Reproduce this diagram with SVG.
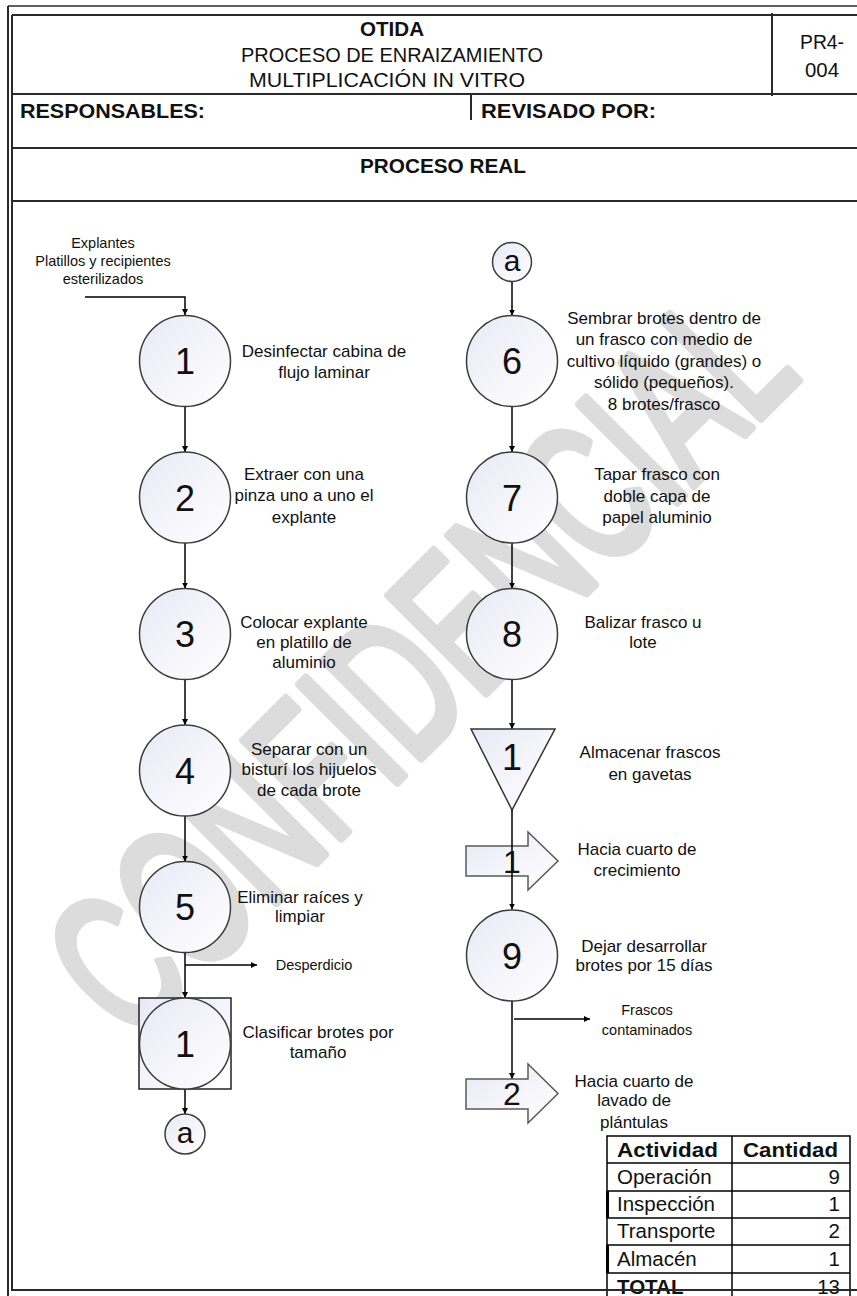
<svg xmlns="http://www.w3.org/2000/svg" width="857" height="1296" viewBox="0 0 857 1296">
<style>
.t{font-family:"Liberation Sans",Arial,sans-serif;fill:#111;}
.lbl{font-size:17px;text-anchor:middle;}
.sm{font-size:14.5px;text-anchor:middle;}
.num{font-size:36px;text-anchor:middle;}
.hd{font-size:20px;}
.b{font-weight:bold;}
.tb{font-size:20.5px;}
.frame{stroke:#2a2a2a;stroke-width:2;fill:none;}
.op{fill:url(#g);stroke:#3c3c3c;stroke-width:1.5;}
.con{stroke:#000;stroke-width:1.5;fill:none;}
.tr{fill:url(#g);stroke:#5a5a5a;stroke-width:1.5;}
.wm{font-family:"Liberation Sans",Arial,sans-serif;font-size:200px;fill:#dcdcdc;stroke:#dcdcdc;stroke-width:9;stroke-linejoin:round;}
</style>
<defs>
<linearGradient id="g" x1="0" y1="0" x2="1" y2="1">
<stop offset="0" stop-color="#e9e9f6"/>
<stop offset="1" stop-color="#ffffff"/>
</linearGradient>
<marker id="ah" viewBox="0 0 10 10" refX="10" refY="5" markerWidth="6" markerHeight="6" orient="auto" markerUnits="userSpaceOnUse">
<path d="M0,0 L10,5 L0,10 z" fill="#000"/>
</marker>
</defs>
<rect width="857" height="1296" fill="#fff"/>

<g id="watermark" transform="translate(133,1046) rotate(-45) scale(0.636,1)">
<text class="wm" x="0" y="0">CONFIDENCIAL</text>
</g>

<g id="frame">
<line class="frame" x1="8" y1="6" x2="857" y2="6" style="stroke-width:1.5"/>
<line class="frame" x1="12" y1="15" x2="857" y2="15"/>
<line class="frame" x1="8" y1="6" x2="8" y2="1296"/>
<line class="frame" x1="12" y1="15" x2="12" y2="1291"/>
<line class="frame" x1="12" y1="94" x2="857" y2="94"/>
<line class="frame" x1="772" y1="13" x2="772" y2="96"/>
<line class="frame" x1="471" y1="94" x2="471" y2="120"/>
<line class="frame" x1="12" y1="148" x2="857" y2="148"/>
<line class="frame" x1="12" y1="201" x2="857" y2="201"/>
<line class="frame" x1="12" y1="1290" x2="857" y2="1290"/>
</g>

<g id="header">
<text class="t hd b" x="392" y="36" text-anchor="middle" textLength="64" lengthAdjust="spacingAndGlyphs">OTIDA</text>
<text class="t hd" x="392" y="62" text-anchor="middle" textLength="302" lengthAdjust="spacingAndGlyphs">PROCESO DE ENRAIZAMIENTO</text>
<text class="t hd" x="387" y="87" text-anchor="middle" textLength="276" lengthAdjust="spacingAndGlyphs">MULTIPLICACIÓN IN VITRO</text>
<text class="t hd" x="822" y="49" text-anchor="middle" textLength="44" lengthAdjust="spacingAndGlyphs">PR4-</text>
<text class="t hd" x="822" y="77" text-anchor="middle" textLength="34" lengthAdjust="spacingAndGlyphs">004</text>
<text class="t hd b" x="20" y="118" textLength="185" lengthAdjust="spacingAndGlyphs">RESPONSABLES:</text>
<text class="t hd b" x="481" y="118" textLength="175" lengthAdjust="spacingAndGlyphs">REVISADO POR:</text>
<text class="t hd b" x="443" y="173" text-anchor="middle" textLength="166" lengthAdjust="spacingAndGlyphs">PROCESO REAL</text>
</g>

<g id="connectors">
<polyline class="con" points="85,297 185,297 185,315" marker-end="url(#ah)"/>
<line class="con" x1="185" y1="407" x2="185" y2="452" marker-end="url(#ah)"/>
<line class="con" x1="185" y1="543" x2="185" y2="588.5" marker-end="url(#ah)"/>
<line class="con" x1="185" y1="679.5" x2="185" y2="725" marker-end="url(#ah)"/>
<line class="con" x1="185" y1="816" x2="185" y2="861.5" marker-end="url(#ah)"/>
<line class="con" x1="185" y1="952.5" x2="185" y2="998" marker-end="url(#ah)"/>
<line class="con" x1="185" y1="965" x2="257" y2="965" marker-end="url(#ah)"/>
<line class="con" x1="185" y1="1089" x2="185" y2="1114" marker-end="url(#ah)"/>
<line class="con" x1="512" y1="281.5" x2="512" y2="315.5" marker-end="url(#ah)"/>
<line class="con" x1="512" y1="406.5" x2="512" y2="452" marker-end="url(#ah)"/>
<line class="con" x1="512" y1="543" x2="512" y2="588.5" marker-end="url(#ah)"/>
<line class="con" x1="512" y1="679.5" x2="512" y2="729" marker-end="url(#ah)"/>
<line class="con" x1="512" y1="1001" x2="512" y2="1079" marker-end="url(#ah)"/>
<line class="con" x1="514" y1="1019" x2="590" y2="1019" marker-end="url(#ah)"/>
</g>

<g id="input-label">
<text class="t sm" x="103" y="248">Explantes</text>
<text class="t sm" x="103" y="266">Platillos y recipientes</text>
<text class="t sm" x="103" y="284">esterilizados</text>
</g>

<g id="op1">
<circle class="op" cx="185" cy="361" r="45.5"/>
<text class="t num" x="185" y="374">1</text>
<text class="t lbl" x="324" y="357">Desinfectar cabina de</text>
<text class="t lbl" x="324" y="378">flujo laminar</text>
</g>
<g id="op2">
<circle class="op" cx="185" cy="497.5" r="45.5"/>
<text class="t num" x="185" y="510.5">2</text>
<text class="t lbl" x="304" y="480">Extraer con una</text>
<text class="t lbl" x="304" y="501">pinza uno a uno el</text>
<text class="t lbl" x="304" y="523">explante</text>
</g>
<g id="op3">
<circle class="op" cx="185" cy="634" r="45.5"/>
<text class="t num" x="185" y="647">3</text>
<text class="t lbl" x="304" y="628">Colocar explante</text>
<text class="t lbl" x="304" y="648">en platillo de</text>
<text class="t lbl" x="304" y="668">aluminio</text>
</g>
<g id="op4">
<circle class="op" cx="185" cy="770.5" r="45.5"/>
<text class="t num" x="185" y="783.5">4</text>
<text class="t lbl" x="309" y="755">Separar con un</text>
<text class="t lbl" x="309" y="775">bisturí los hijuelos</text>
<text class="t lbl" x="309" y="796">de cada brote</text>
</g>
<g id="op5">
<circle class="op" cx="185" cy="907" r="45.5"/>
<text class="t num" x="185" y="920">5</text>
<text class="t lbl" x="300" y="903">Eliminar raíces y</text>
<text class="t lbl" x="300" y="922">limpiar</text>
</g>
<g id="waste-label">
<text class="t sm" x="314" y="970">Desperdicio</text>
</g>
<g id="combined1">
<rect x="139" y="998" width="92" height="91" fill="url(#g)" stroke="#222" stroke-width="1.5"/>
<circle class="op" cx="185" cy="1043.5" r="45.5"/>
<text class="t num" x="185" y="1056.5">1</text>
<text class="t lbl" x="318" y="1038">Clasificar brotes por</text>
<text class="t lbl" x="318" y="1058">tamaño</text>
</g>
<g id="conn-a-out">
<circle class="op" cx="185" cy="1134" r="20"/>
<text class="t" x="185" y="1143" font-size="30" text-anchor="middle">a</text>
</g>

<g id="conn-a-in">
<circle class="op" cx="512" cy="262" r="19.5"/>
<text class="t" x="512" y="271" font-size="30" text-anchor="middle">a</text>
</g>
<g id="op6">
<circle class="op" cx="512" cy="361" r="45.5"/>
<text class="t num" x="512" y="374">6</text>
<text class="t lbl" x="664" y="324">Sembrar brotes dentro de</text>
<text class="t lbl" x="664" y="345">un frasco con medio de</text>
<text class="t lbl" x="664" y="367">cultivo líquido (grandes) o</text>
<text class="t lbl" x="664" y="388">sólido (pequeños).</text>
<text class="t lbl" x="664" y="410">8 brotes/frasco</text>
</g>
<g id="op7">
<circle class="op" cx="512" cy="497.5" r="45.5"/>
<text class="t num" x="512" y="510.5">7</text>
<text class="t lbl" x="657" y="480">Tapar frasco con</text>
<text class="t lbl" x="657" y="502">doble capa de</text>
<text class="t lbl" x="657" y="523">papel aluminio</text>
</g>
<g id="op8">
<circle class="op" cx="512" cy="634" r="45.5"/>
<text class="t num" x="512" y="647">8</text>
<text class="t lbl" x="643" y="628">Balizar frasco u</text>
<text class="t lbl" x="643" y="648">lote</text>
</g>
<g id="store1">
<polygon points="471,729 555,729 512,810" fill="url(#g)" stroke="#333" stroke-width="1.5"/>
<text class="t num" x="512" y="770">1</text>
<text class="t lbl" x="650" y="758">Almacenar frascos</text>
<text class="t lbl" x="650" y="780">en gavetas</text>
</g>
<g id="transport1">
<polygon class="tr" points="466,846 528,846 528,832 558,861 528,890 528,876 466,876"/>
<line class="con" x1="512" y1="810" x2="512" y2="909.5" marker-end="url(#ah)"/>
<text class="t" x="512" y="873" font-size="32" text-anchor="middle">1</text>
<text class="t lbl" x="637" y="855">Hacia cuarto de</text>
<text class="t lbl" x="637" y="876">crecimiento</text>
</g>
<g id="op9">
<circle class="op" cx="512" cy="955.5" r="45.5"/>
<text class="t num" x="512" y="968.5">9</text>
<text class="t lbl" x="644" y="952">Dejar desarrollar</text>
<text class="t lbl" x="644" y="971">brotes por 15 días</text>
</g>
<g id="reject-label">
<text class="t sm" x="647" y="1015">Frascos</text>
<text class="t sm" x="647" y="1035">contaminados</text>
</g>
<g id="transport2">
<polygon class="tr" points="466,1079 528,1079 528,1064 558,1093.5 528,1123 528,1109 466,1109"/>
<text class="t" x="512" y="1105" font-size="32" text-anchor="middle">2</text>
<text class="t lbl" x="634" y="1087">Hacia cuarto de</text>
<text class="t lbl" x="634" y="1106">lavado de</text>
<text class="t lbl" x="634" y="1128">plántulas</text>
</g>

<g id="summary-table">
<rect x="607" y="1136" width="243" height="165" fill="#fff" stroke="#000" stroke-width="1.5"/>
<line class="con" x1="732" y1="1136" x2="732" y2="1296"/>
<line class="con" x1="607" y1="1163" x2="850" y2="1163"/>
<line class="con" x1="607" y1="1191" x2="850" y2="1191"/>
<line class="con" x1="607" y1="1218" x2="850" y2="1218"/>
<line class="con" x1="607" y1="1245" x2="850" y2="1245"/>
<line class="con" x1="607" y1="1273" x2="850" y2="1273"/>
<line x1="607.5" y1="1191" x2="607.5" y2="1218" stroke="#000" stroke-width="3"/>
<line x1="607.5" y1="1245" x2="607.5" y2="1273" stroke="#000" stroke-width="3"/>
<text class="t tb b" x="617" y="1157" textLength="101" lengthAdjust="spacingAndGlyphs">Actividad</text>
<text class="t tb b" x="743" y="1157" textLength="95" lengthAdjust="spacingAndGlyphs">Cantidad</text>
<text class="t tb" x="617" y="1184">Operación</text>
<text class="t tb" x="617" y="1211">Inspección</text>
<text class="t tb" x="617" y="1238">Transporte</text>
<text class="t tb" x="617" y="1266">Almacén</text>
<text class="t tb b" x="617" y="1294">TOTAL</text>
<text class="t tb" x="840" y="1184" text-anchor="end">9</text>
<text class="t tb" x="840" y="1211" text-anchor="end">1</text>
<text class="t tb" x="840" y="1238" text-anchor="end">2</text>
<text class="t tb" x="840" y="1266" text-anchor="end">1</text>
<text class="t tb" x="840" y="1294" text-anchor="end">13</text>
<line class="frame" x1="12" y1="1290" x2="857" y2="1290"/>
</g>
</svg>
